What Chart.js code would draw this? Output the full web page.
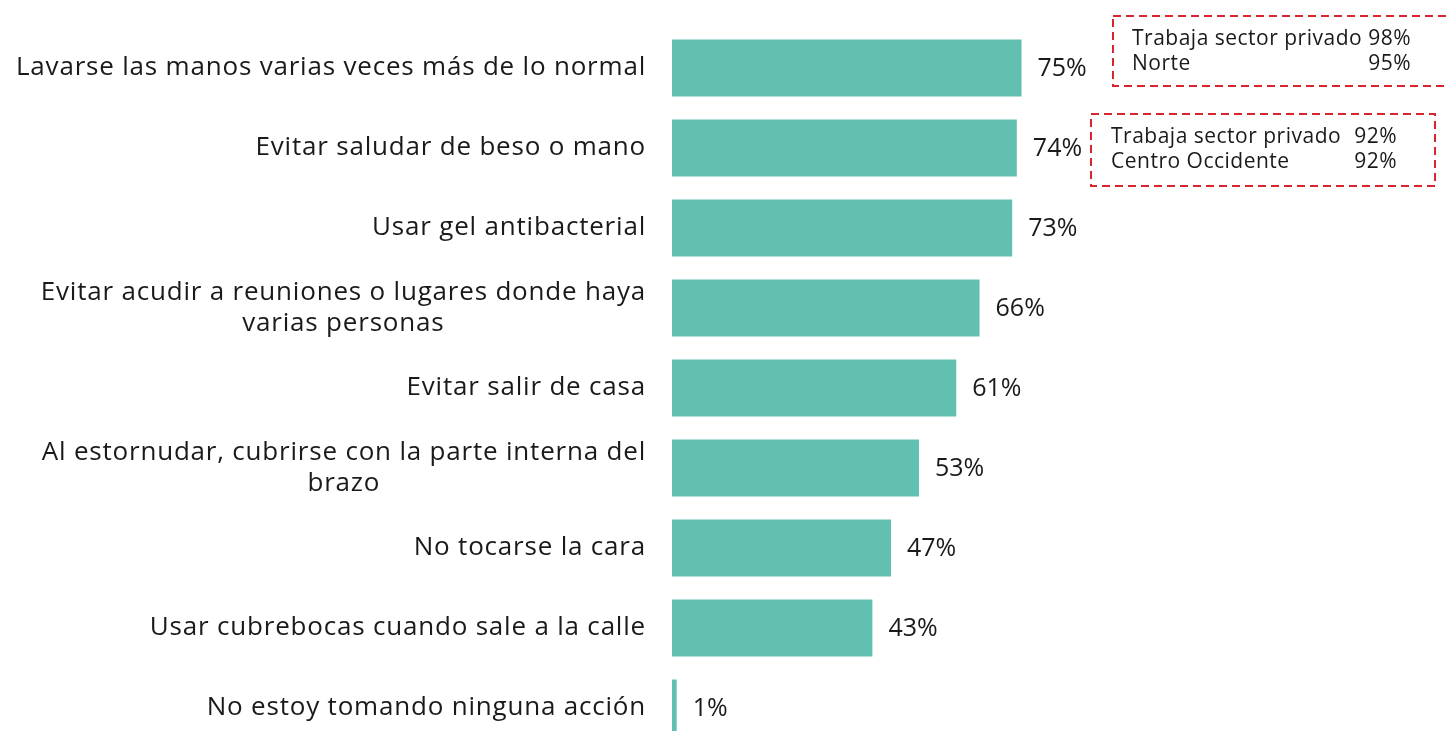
<!DOCTYPE html>
<html>
<head>
<meta charset="utf-8">
<script src="https://cdn.jsdelivr.net/npm/chart.js@4/dist/chart.umd.min.js"></script>
<style>
    html, body { margin: 0; padding: 0; background: #fff; overflow: hidden; }
    #chart { display: block; }
</style>
</head>
<body>
<canvas id="chart" width="1446" height="760"></canvas>
<script>
const categories = [
    ['Lavarse las manos varias veces más de lo normal'],
    ['Evitar saludar de beso o mano'],
    ['Usar gel antibacterial'],
    ['Evitar acudir a reuniones o lugares donde haya', 'varias personas'],
    ['Evitar salir de casa'],
    ['Al estornudar, cubrirse con la parte interna del', 'brazo'],
    ['No tocarse la cara'],
    ['Usar cubrebocas cuando sale a la calle'],
    ['No estoy tomando ninguna acción']
];
const values = [75, 74, 73, 66, 61, 53, 47, 43, 1];

// callout boxes next to the first two bars
const noteRows1 = [['Trabaja sector privado', '98%'], ['Norte', '95%']];
const noteRows2 = [['Trabaja sector privado', '92%'], ['Centro Occidente', '92%']];

const FONT = '"Open Sans", sans-serif';
const BAR_COLOR = '#62c0b0';

// draws the category labels, each block right aligned, lines centred within it
const labelPlugin = {
    id: 'labels',
    afterDraw(chart) {
        const ctx = chart.ctx;
        const y = chart.scales.y;
        ctx.save();
        ctx.font = '26px ' + FONT;
        ctx.letterSpacing = '0.8px';
        ctx.fillStyle = '#1a1a1a';
        ctx.textAlign = 'center';
        ctx.textBaseline = 'middle';
        categories.forEach((lines, i) => {
            const cy = y.getPixelForTick(i);
            const maxW = Math.max(...lines.map(l => ctx.measureText(l).width));
            const cx = 646 - maxW / 2;
            const lh = 31;
            const start = cy - (lines.length - 1) * lh / 2;
            lines.forEach((l, j) => ctx.fillText(l, cx, start + j * lh));
        });

        // value labels
        ctx.letterSpacing = '0px';
        ctx.font = '25px ' + FONT;
        ctx.textAlign = 'left';
        const meta = chart.getDatasetMeta(0);
        meta.data.forEach((bar, i) => {
            ctx.fillText(values[i] + '%', bar.x + 16, bar.y + 1);
        });
        ctx.restore();
    }
};

function drawNote(ctx, x, y, w, h, rows, tx, rx) {
    ctx.save();
    ctx.strokeStyle = '#d7262d';
    ctx.lineWidth = 2;
    ctx.setLineDash([8, 5]);
    ctx.strokeRect(x, y, w, h);
    ctx.setLineDash([]);
    ctx.font = '21px ' + FONT;
    ctx.letterSpacing = '0.5px';
    ctx.fillStyle = '#1a1a1a';
    ctx.textBaseline = 'middle';
    rows.forEach((r, i) => {
        const ty = y + 23 + i * 25;
        ctx.textAlign = 'left';
        ctx.fillText(r[0], tx, ty);
        ctx.textAlign = 'right';
        ctx.fillText(r[1], rx, ty);
    });
    ctx.restore();
}

const notePlugin = {
    id: 'notes',
    afterDraw(chart) {
        const ctx = chart.ctx;
        drawNote(ctx, 1113, 16, 345, 70, noteRows1, 1132, 1411);
        drawNote(ctx, 1091, 114, 344, 72, noteRows2, 1111, 1397);
    }
};

new Chart(document.getElementById('chart').getContext('2d'), {
    type: 'bar',
    data: {
        labels: categories.map(c => c.join(' ')),
        datasets: [{
            data: values,
            backgroundColor: BAR_COLOR,
            barPercentage: 0.7125,
            categoryPercentage: 1
        }]
    },
    options: {
        indexAxis: 'y',
        responsive: false,
        animation: false,
        layout: { padding: { top: 28, bottom: 12, left: 0, right: 308 } },
        plugins: {
            legend: { display: false },
            tooltip: { enabled: false }
        },
        scales: {
            x: {
                display: false,
                min: 0,
                max: 100
            },
            y: {
                grid: { display: false },
                border: { display: false },
                ticks: { display: false },
                afterFit(scale) { scale.width = 672; }
            }
        }
    },
    plugins: [labelPlugin, notePlugin]
});
</script>
</body>
</html>
